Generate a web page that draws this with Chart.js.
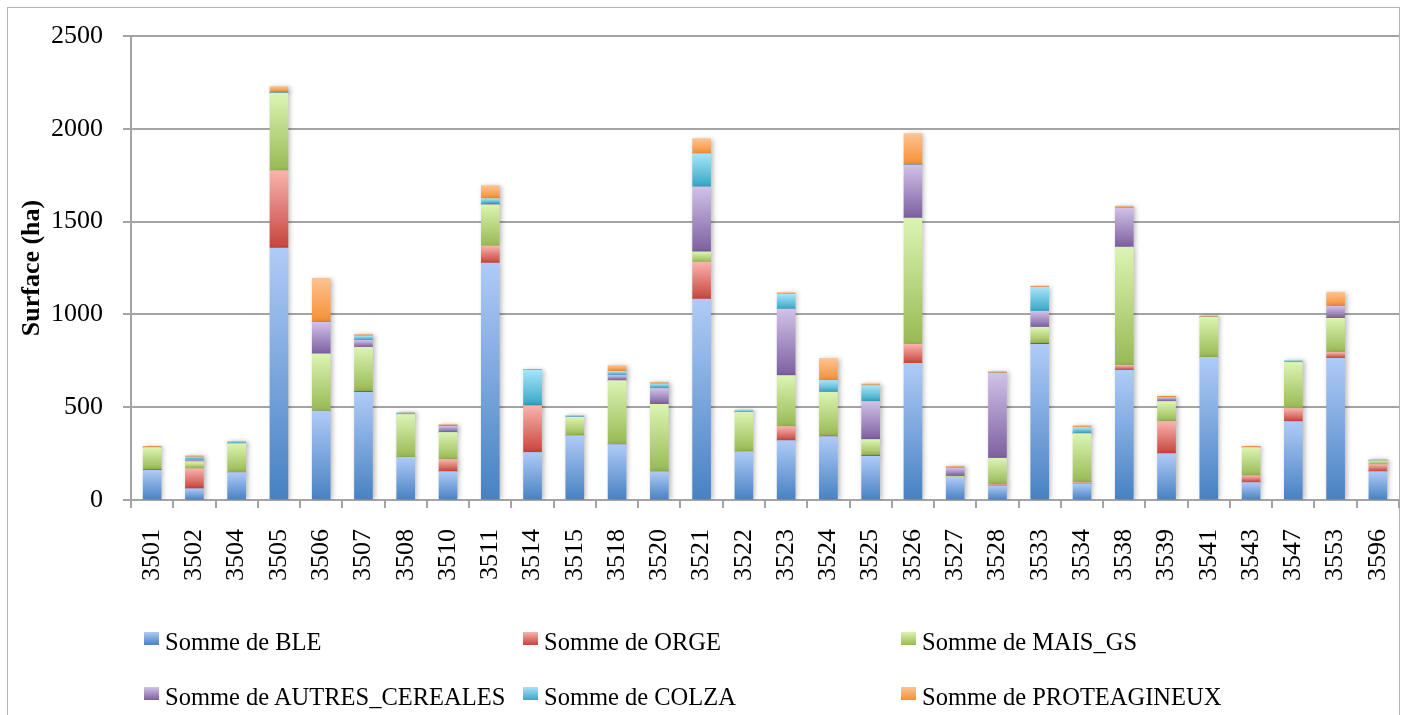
<!DOCTYPE html>
<html lang="fr">
<head>
<meta charset="utf-8">
<title>Surface par commune</title>
<script src="https://cdn.jsdelivr.net/npm/chart.js@4.4.1/dist/chart.umd.min.js"></script>
<style>
    html, body { margin: 0; padding: 0; background: #fff; overflow: hidden; }
    #frame { position: absolute; left: 7px; top: 7px; width: 1391px; height: 720px; border: 1px solid #b3b3b3; }
    #chart { position: absolute; left: 0; top: 0; }
    .legend-item { position: absolute; font: 24.5px "Liberation Serif", serif; line-height: 24px; color: #000; white-space: nowrap; }
    .legend-box { position: absolute; width: 15px; height: 13px; }
</style>
</head>
<body>
<div id="frame"></div>
<canvas id="chart" width="1405" height="715"></canvas>
<div id="legend"></div>

<script>
// ===== DATA =====
const communes = ['3501', '3502', '3504', '3505', '3506', '3507', '3508', '3510', '3511', '3514',
    '3515', '3518', '3520', '3521', '3522', '3523', '3524', '3525', '3526', '3527',
    '3528', '3533', '3534', '3538', '3539', '3541', '3543', '3547', '3553', '3596'];

const ble    = [160, 61, 148, 1357, 479, 580, 230, 153, 1277, 256, 347, 299, 153, 1082, 261, 320, 342, 236, 736, 122, 77, 839, 88, 698, 250, 769, 94, 423, 763, 153];
const orge   = [3, 108, 0, 418, 0, 5, 0, 65, 92, 252, 0, 0, 0, 200, 0, 76, 2, 5, 103, 0, 8, 5, 6, 27, 173, 0, 37, 70, 33, 38];
const maisGs = [120, 38, 156, 417, 308, 238, 231, 146, 222, 0, 99, 345, 362, 55, 212, 275, 237, 85, 680, 6, 140, 87, 264, 638, 108, 216, 152, 249, 183, 21];
const autresCereales = [0, 9, 0, 0, 171, 37, 0, 34, 3, 0, 0, 27, 86, 351, 0, 357, 0, 205, 286, 45, 459, 86, 0, 210, 22, 0, 0, 0, 65, 0];
const colza  = [0, 16, 11, 5, 3, 24, 9, 2, 30, 192, 9, 22, 25, 178, 11, 81, 63, 86, 2, 0, 0, 130, 33, 0, 0, 0, 0, 10, 0, 0];
const proteagineux = [5, 7, 0, 31, 234, 9, 0, 7, 70, 4, 0, 32, 9, 81, 0, 9, 119, 9, 167, 9, 9, 5, 10, 11, 5, 7, 5, 0, 76, 6];

const seriesNames = ['Somme de BLE', 'Somme de ORGE', 'Somme de MAIS_GS',
    'Somme de AUTRES_CEREALES', 'Somme de COLZA', 'Somme de PROTEAGINEUX'];
const yTicks = [0, 500, 1000, 1500, 2000, 2500];

document.addEventListener('DOMContentLoaded', function() {
    "use strict";

    const series = [ble, orge, maisGs, autresCereales, colza, proteagineux];

    // light (top) / dark (bottom) of each gradient
    const shades = [
        ['#afcbf7', '#4781c2'],
        ['#f9b3af', '#c6443b'],
        ['#dcf4b3', '#98b954'],
        ['#d0c2e8', '#7d5f9f'],
        ['#a5e5fa', '#37a6c4'],
        ['#fec391', '#f68f35']
    ];
    const gridColor = '#a4a4a4';
    const fontFamily = '"Liberation Serif", serif';

    // ===== FUNCTIONS =====

    /**
     * Build a vertical gradient for one stacked segment
     */
    function segmentFill(s) {
        return function(ctx) {
            const chart = ctx.chart;
            const yScale = chart.scales.y;
            if (ctx.type !== 'data' || !yScale) return shades[s][1];
            const j = ctx.dataIndex;
            let base = 0;
            for (let k = 0; k < s; k++) base += series[k][j];
            const top = base + series[s][j];
            const y0 = yScale.getPixelForValue(top);
            const y1 = yScale.getPixelForValue(base);
            if (!isFinite(y0) || !isFinite(y1) || y1 - y0 < 1) return shades[s][1];
            const g = chart.ctx.createLinearGradient(0, y0, 0, y1);
            g.addColorStop(0, shades[s][0]);
            g.addColorStop(1, shades[s][1]);
            return g;
        };
    }

    // soft shadow behind the bars
    const barShadow = {
        id: 'barShadow',
        beforeDatasetsDraw(chart) {
            const c = chart.ctx;
            c.save();
            c.shadowColor = 'rgba(0, 0, 0, 0.28)';
            c.shadowBlur = 5;
            c.shadowOffsetX = 2;
            c.shadowOffsetY = 1;
        },
        afterDatasetsDraw(chart) {
            chart.ctx.restore();
        }
    };

    const datasets = series.map((values, s) => ({
        label: seriesNames[s],
        data: values,
        backgroundColor: segmentFill(s),
        borderWidth: 0,
        barThickness: 18,
        stack: 'surface'
    }));

    new Chart(document.getElementById('chart'), {
        type: 'bar',
        data: { labels: communes, datasets: datasets },
        options: {
            responsive: false,
            animation: false,
            layout: { padding: { top: 36, right: 6, left: 0, bottom: 0 } },
            plugins: {
                legend: { display: false },
                tooltip: { enabled: false }
            },
            scales: {
                x: {
                    stacked: true,
                    grid: { drawOnChartArea: false, color: gridColor, lineWidth: 2, tickLength: 8 },
                    border: { color: gridColor, width: 2 },
                    ticks: {
                        color: '#000',
                        font: { family: fontFamily, size: 26 },
                        minRotation: 90,
                        maxRotation: 90,
                        autoSkip: false,
                        padding: 21
                    },
                    afterFit: function(scale) {
                        scale.height = 215;
                        scale.paddingLeft = 0;
                        scale.paddingRight = 0;
                    }
                },
                y: {
                    stacked: true,
                    min: yTicks[0],
                    max: yTicks[yTicks.length - 1],
                    grid: { color: gridColor, lineWidth: 2, tickLength: 8 },
                    border: { color: gridColor, width: 2 },
                    afterBuildTicks: function(scale) {
                        scale.ticks = yTicks.map(v => ({ value: v }));
                    },
                    ticks: {
                        color: '#000',
                        font: { family: fontFamily, size: 26 },
                        padding: 20,
                        callback: function(value) { return String(value); }
                    },
                    title: {
                        display: true,
                        text: 'Surface (ha)',
                        color: '#000',
                        font: { family: fontFamily, size: 26, weight: 'bold' },
                        padding: { top: 17, bottom: 0 }
                    },
                    afterFit: function(scale) {
                        scale.width = 131;
                        scale.paddingTop = 0;
                        scale.paddingBottom = 0;
                    }
                }
            }
        },
        plugins: [barShadow]
    });

    // ===== LEGEND (three fixed columns, like the original) =====
    const legend = document.getElementById('legend');
    const colX = [144, 523, 901];
    const rowY = [632, 687];
    seriesNames.forEach((name, s) => {
        const col = s % 3;
        const row = Math.floor(s / 3);
        const box = document.createElement('div');
        box.className = 'legend-box';
        box.style.left = colX[col] + 'px';
        box.style.top = rowY[row] + 'px';
        box.style.background = 'linear-gradient(' + shades[s][0] + ', ' + shades[s][1] + ')';
        legend.appendChild(box);

        const text = document.createElement('div');
        text.className = 'legend-item';
        text.style.left = (colX[col] + 21) + 'px';
        text.style.top = (rowY[row] - 2) + 'px';
        text.textContent = name;
        legend.appendChild(text);
    });
});
</script>
</body>
</html>
